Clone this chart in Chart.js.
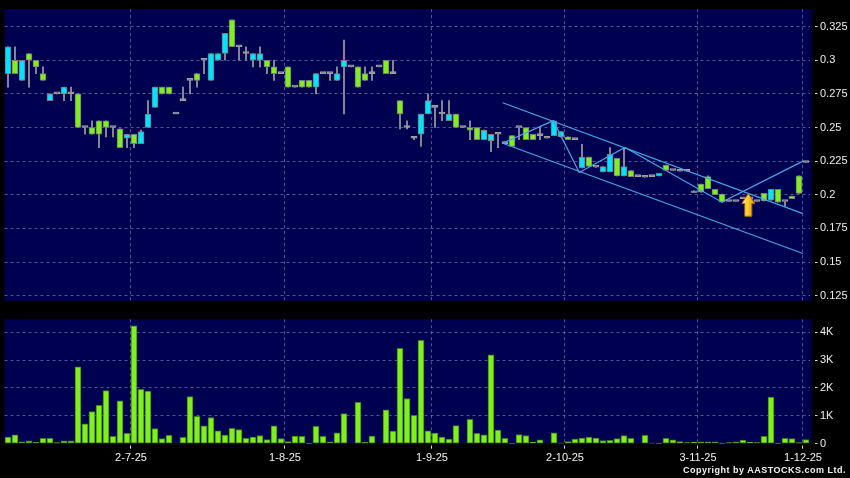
<!DOCTYPE html>
<html>
<head>
<meta charset="utf-8">
<script src="https://cdn.jsdelivr.net/npm/chart.js@4.4.1/dist/chart.umd.min.js"></script>
<style>
  html, body { margin:0; padding:0; background:#000; width:850px; height:478px; overflow:hidden; }
  #wrap { position:relative; width:850px; height:478px; }
  #c-price { position:absolute; left:0; top:0; }
  #c-vol { position:absolute; left:0; top:310px; }
  #copy { position:absolute; right:4px; top:465px; color:#f2f2f2; font:bold 9px 'Liberation Sans', Arial, sans-serif; letter-spacing:0.5px; white-space:nowrap; }
</style>
</head>
<body>
<div id="wrap">
  <canvas id="c-price" width="850" height="310"></canvas>
  <canvas id="c-vol" width="850" height="168"></canvas>
  <div id="copy">Copyright by AASTOCKS.com Ltd.</div>
</div>
<script>
/* ── Data ── */
var tickLabels = ['2-7-25', '1-8-25', '1-9-25', '2-10-25', '3-11-25', '1-12-25'];
var tickIndex  = [18, 40, 61, 80, 99, 114];
var priceTicks = [0.125, 0.15, 0.175, 0.2, 0.225, 0.25, 0.275, 0.3, 0.325];
var volTicks   = [0, 1000, 2000, 3000, 4000];

var opens = [
  .31,.29,.30,.30,.295,.285,.275,.275,.28,.275,
  .25,.25,.245,.245,.25,.25,.235,.245,.238,.247,
  .26,.28,.275,.275,.26,.27,.285,.285,.30,.305,
  .305,.32,.31,.31,.305,.305,.305,.295,.29,.29,
  .28,.28,.28,.28,.29,.29,.29,.29,.30,.295,
  .28,.285,.29,.295,.29,.29,.26,.25,.242,.26,
  .27,.265,.26,.26,.25,.25,.248,.241,.248,.245,
  .245,.238,.236,.25,.241,.241,.244,.242,.255,.247,
  .241,.241,.228,.221,.2205,.221,.23,.214,.221,.2135,
  .2135,.213,.2135,.216,.218,.218,.2175,.2175,.203,.202,
  .2045,.20,.1945,.195,.195,.197,.197,.195,.1955,.204,
  .1945,.195,.197,.201,.224
];
var highs = [
  .31,.31,.30,.305,.30,.295,.275,.275,.28,.28,
  .275,.25,.255,.255,.255,.25,.249,.245,.245,.248,
  .27,.28,.28,.28,.26,.28,.285,.29,.30,.305,
  .305,.32,.33,.31,.31,.305,.31,.30,.30,.29,
  .295,.28,.285,.285,.29,.29,.29,.295,.315,.295,
  .295,.295,.295,.295,.30,.30,.27,.255,.243,.26,
  .275,.265,.27,.27,.26,.25,.255,.25,.248,.245,
  .245,.238,.244,.25,.25,.245,.25,.242,.255,.247,
  .243,.241,.2375,.228,.2205,.221,.235,.227,.235,.218,
  .2135,.213,.2135,.216,.222,.218,.2175,.2175,.203,.208,
  .214,.204,.2005,.195,.195,.197,.197,.195,.201,.204,
  .204,.195,.199,.214,.224
];
var lows = [
  .28,.29,.285,.28,.29,.285,.27,.275,.27,.27,
  .25,.245,.245,.235,.243,.243,.235,.235,.235,.238,
  .25,.265,.275,.275,.26,.27,.275,.28,.29,.285,
  .30,.30,.31,.30,.30,.295,.295,.29,.285,.29,
  .28,.28,.28,.28,.275,.29,.285,.285,.26,.295,
  .28,.285,.285,.295,.29,.29,.249,.249,.241,.236,
  .26,.25,.255,.255,.25,.25,.241,.241,.241,.232,
  .235,.238,.236,.241,.241,.241,.241,.242,.244,.243,
  .241,.241,.22,.221,.2205,.217,.217,.214,.214,.2135,
  .2135,.213,.2135,.214,.218,.218,.2175,.2175,.2015,.202,
  .2045,.20,.1945,.195,.195,.197,.197,.195,.1955,.196,
  .1945,.1913,.197,.201,.224
];
var closes = [
  .29,.30,.285,.305,.30,.29,.27,.275,.275,.275,
  .275,.25,.25,.255,.255,.25,.249,.242,.245,.238,
  .25,.265,.28,.28,.26,.27,.285,.29,.30,.285,
  .30,.305,.33,.31,.305,.30,.30,.30,.295,.29,
  .295,.28,.285,.285,.28,.29,.29,.285,.295,.295,
  .295,.29,.29,.295,.30,.29,.27,.25,.242,.245,
  .26,.265,.26,.255,.26,.25,.25,.25,.241,.24,
  .245,.238,.244,.25,.25,.245,.244,.242,.244,.243,
  .243,.241,.22,.228,.2205,.217,.217,.227,.214,.218,
  .2135,.213,.2135,.214,.222,.218,.2175,.2175,.2015,.208,
  .2135,.204,.2005,.195,.195,.197,.197,.195,.201,.196,
  .204,.195,.199,.214,.224
];
var volumes = [
  240,320,70,100,50,190,190,40,100,100,
  2760,710,1150,1380,1900,260,1540,370,4230,1950,
  1890,540,180,300,0,230,1690,980,640,940,
  460,310,550,510,190,240,290,150,640,180,
  80,270,260,10,620,260,70,390,1080,0,
  1480,50,270,0,1210,450,3420,1620,1020,3710,
  460,380,240,170,650,0,870,370,320,3190,
  490,190,10,330,290,60,140,0,390,20,
  80,170,200,240,200,110,120,180,290,190,
  0,300,20,10,190,140,80,40,60,70,
  70,70,10,40,70,130,60,40,260,1670,
  10,190,180,40,150
];
var days = opens.map(function(v, i) { return i + 1; });

// drawn lines: [bar index, price]
var upperLine = [[70.67, 0.2684], [113.57, 0.186]];
var lowerLine = [[70.67, 0.2383], [113.57, 0.1563]];
var zigzag    = [[70.67, 0.2383], [77.9, 0.2551], [81.61, 0.2166], [88.14, 0.2351], [102.0, 0.1945], [113.57, 0.225]];
var arrowAt   = [105.76, 0.2009, 0.184];   // index, tip price, tail price

/* ── Styles ── */
var FONT  = "'Liberation Sans', Arial, sans-serif";
var NAVY  = '#000050';
var GRID  = 'rgba(150,150,205,0.55)';
var CYAN  = '#00e4ff';
var LIME  = '#7ff01e';
var DASHC = '#a0a0a0';
var LINE  = '#46a6e6';
var TICKC = '#d8d8d8';

Chart.defaults.font.family = FONT;
Chart.defaults.font.size = 11;
Chart.defaults.color = '#ececec';
Chart.defaults.animation = false;
Chart.defaults.events = [];
Chart.defaults.plugins.legend.display = false;
Chart.defaults.plugins.tooltip.enabled = false;

function pts(arr) { return arr.map(function(p) { return { x:p[0], y:p[1] }; }); }
function xGrid(ctx) { return tickIndex.indexOf(ctx.index) >= 0 ? GRID : 'transparent'; }
function xTick(ctx) { return tickIndex.indexOf(ctx.index) >= 0 ? TICKC : 'transparent'; }
function fixTicks(list) { return function(s) { s.ticks = list.map(function(v) { return { value:v }; }); }; }

var panelBg = {
  id: 'panelBg',
  beforeDraw: function(c) {
    var a = c.chartArea, ctx = c.ctx;
    ctx.save();
    ctx.fillStyle = NAVY;
    ctx.fillRect(a.left, a.top, a.right - a.left + 2, a.bottom - a.top);
    ctx.restore();
  }
};

var arrowMark = {
  id: 'arrowMark',
  afterDatasetsDraw: function(c) {
    var ctx = c.ctx;
    var x = c.scales.xl.getPixelForValue(arrowAt[0]);
    var yTip = c.scales.y.getPixelForValue(arrowAt[1]);
    var yTail = c.scales.y.getPixelForValue(arrowAt[2]);
    var hw = 6.5, sw = 3.5, head = 10;
    ctx.save();
    var g = ctx.createLinearGradient(x - hw, 0, x + hw, 0);
    g.addColorStop(0, '#fff0a0'); g.addColorStop(0.45, '#ffcc33'); g.addColorStop(1, '#e08a00');
    ctx.beginPath();
    ctx.moveTo(x, yTip);
    ctx.lineTo(x + hw, yTip + head);
    ctx.lineTo(x + sw, yTip + head);
    ctx.lineTo(x + sw, yTail);
    ctx.lineTo(x - sw, yTail);
    ctx.lineTo(x - sw, yTip + head);
    ctx.lineTo(x - hw, yTip + head);
    ctx.closePath();
    ctx.fillStyle = g; ctx.fill();
    ctx.strokeStyle = '#b06a00'; ctx.lineWidth = 1; ctx.stroke();
    ctx.restore();
  }
};

/* ── Price panel ── */
var bodyColors = opens.map(function(o, i) { return closes[i] > o ? LIME : closes[i] < o ? CYAN : DASHC; });
var bodyBorders = opens.map(function(o, i) { return closes[i] === o ? DASHC : 'rgba(125,125,125,0.95)'; });

new Chart(document.getElementById('c-price').getContext('2d'), {
  type: 'bar',
  data: {
    labels: days,
    datasets: [
      { label:'wick', data: lows.map(function(l, i) { return [l, highs[i]]; }), backgroundColor: DASHC, barThickness:1, grouped:false, order:3 },
      { label:'body', data: opens.map(function(o, i) { return [Math.min(o, closes[i]), Math.max(o, closes[i])]; }),
        backgroundColor: bodyColors, borderColor: bodyBorders, borderWidth:1, borderSkipped:false, barThickness:6, minBarLength:2, grouped:false, order:2 },
      { type:'line', label:'upper', data: pts(upperLine), xAxisID:'xl', borderColor: LINE, borderWidth:1.2, pointRadius:0, order:1 },
      { type:'line', label:'lower', data: pts(lowerLine), xAxisID:'xl', borderColor: LINE, borderWidth:1.2, pointRadius:0, order:1 },
      { type:'line', label:'zigzag', data: pts(zigzag), xAxisID:'xl', borderColor: LINE, borderWidth:1.2, pointRadius:0, order:1 }
    ]
  },
  options: {
    responsive:false,
    layout: { padding: { left:4.5, top:7, right:0, bottom:3 } },
    scales: {
      x: { type:'category', offset:true, grid:{ offset:true, color: xGrid, drawTicks:false }, border:{ display:false, dash:[3,3] },
           ticks:{ display:false, autoSkip:false }, afterFit: function(s) { s.height = 0; } },
      xl: { type:'linear', position:'bottom', offset:false, min:-0.5, max:114.5, grid:{ display:false, offset:false }, border:{ display:false },
            ticks:{ display:false }, afterFit: function(s) { s.height = 0; } },
      y: { position:'right', min:0.1211, max:0.338,
           grid:{ color: GRID, tickLength:8, tickColor: TICKC, tickBorderDash:[0,5,3,20] }, border:{ display:false, dash:[3,3] },
           ticks:{ padding:2.5, callback: function(v) { return String(Number(v.toFixed(3))); } },
           afterBuildTicks: fixTicks(priceTicks),
           afterFit: function(s) { s.width = 40.5; } }
    }
  },
  plugins: [panelBg, arrowMark]
});

/* ── Volume panel ── */
new Chart(document.getElementById('c-vol').getContext('2d'), {
  type: 'bar',
  data: {
    labels: days,
    datasets: [
      { label:'vol', data: volumes, backgroundColor: LIME, borderColor:'#3f7f14', borderWidth:1, borderSkipped:false, barThickness:6 }
    ]
  },
  options: {
    responsive:false,
    layout: { padding: { left:4.5, top:9.3, right:0, bottom:0 } },
    scales: {
      x: { offset:true, grid:{ offset:true, color: xGrid, tickColor: xTick, tickLength:5, tickBorderDash:[0,1.5,3.5,20] }, border:{ display:false, dash:[3,3] },
           ticks:{ autoSkip:false, maxRotation:0, minRotation:0, labelOffset:-3, padding:3, color:'#f2f2f2',
                   callback: function(v, i) { var k = tickIndex.indexOf(i); return k >= 0 ? tickLabels[k] : ''; } },
           afterFit: function(s) { s.height = 34.3; } },
      y: { position:'right', min:0, max:4460,
           grid:{ color: function(ctx) { return ctx.tick && ctx.tick.value === 0 ? 'transparent' : GRID; }, tickLength:8, tickColor: TICKC, tickBorderDash:[0,5,3,20] },
           border:{ display:false, dash:[3,3] },
           ticks:{ padding:2.5, callback: function(v) { return v === 0 ? '0' : (v / 1000) + 'K'; } },
           afterBuildTicks: fixTicks(volTicks),
           afterFit: function(s) { s.width = 40.5; } }
    }
  },
  plugins: [panelBg]
});
</script>
</body>
</html>
